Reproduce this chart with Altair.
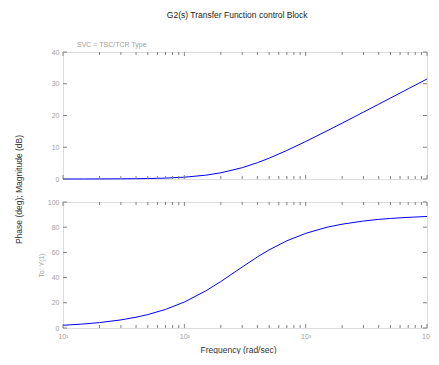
import altair as alt
import pandas as pd

# Data
freq = [10, 15, 20, 30, 40, 50, 70, 100, 150, 200, 300, 400, 500, 700,
        1000, 1500, 2000, 3000, 4000, 5000, 7000, 10000]
magnitude_db = [0.01, 0.01, 0.02, 0.06, 0.10, 0.15, 0.29, 0.57, 1.2, 1.95, 3.56,
                5.13, 6.56, 8.99, 11.8, 15.16, 17.6, 21.08, 23.56, 25.49, 28.41, 31.5]
phase_deg = [2.15, 3.23, 4.3, 6.43, 8.55, 10.65, 14.74, 20.6, 29.4, 36.9, 48.4,
             56.4, 62.0, 69.2, 75.1, 80.0, 82.4, 84.9, 86.2, 86.95, 87.8, 88.5]

major_x = [10, 100, 1000, 10000]
minor_x = [20, 30, 40, 50, 60, 70, 80, 90, 200, 300, 400, 500, 600, 700, 800, 900,
           2000, 3000, 4000, 5000, 6000, 7000, 8000, 9000]
mag_ticks = [0, 10, 20, 30, 40]
phase_ticks = [0, 20, 40, 60, 80, 100]

W, H1, H2 = 364, 127, 126
FRAME = "#808080"
LABEL = "#a0a0a0"
FONT = "Liberation Sans"

df = pd.DataFrame({"f": freq, "mag": magnitude_db, "phase": phase_deg})
dmaj = pd.DataFrame({"f": major_x})
dmin = pd.DataFrame({"f": minor_x})

xscale = alt.Scale(type="log", domain=[10, 10000], nice=False)
mscale = alt.Scale(domain=[0, 40], nice=False)
pscale = alt.Scale(domain=[0, 100], nice=False)

top_x_axis = alt.Axis(values=major_x, ticks=False, grid=False, domain=False, labels=False, title=None)
bot_x_axis = alt.Axis(values=major_x, ticks=False, grid=False, domain=False,
                      labelColor=LABEL, labelFontSize=7, labelFont=FONT, labelPadding=4,
                      labelExpr="datum.value == 10 ? '10¹' : datum.value == 100 ? '10²' : datum.value == 1000 ? '10³' : '10⁴'",
                      labelFlush=False,
                      title="Frequency (rad/sec)", titleFont=FONT, titleFontSize=8.5,
                      titleFontWeight="normal", titleColor="#333333", titlePadding=6,
                      titleX=175)
mag_axis = alt.Axis(values=mag_ticks, ticks=False, grid=False, domain=False,
                    labelColor=LABEL, labelFontSize=7, labelFont=FONT, labelPadding=4,
                    title="Phase (deg); Magnitude (dB)", titleFont=FONT,
                    titleFontSize=8.5, titleFontWeight="normal", titleColor="#333333",
                    titleX=-40, titleY=H1 + 10)
phase_axis = alt.Axis(values=phase_ticks, ticks=False, grid=False, domain=False,
                      labelColor=LABEL, labelFontSize=7, labelFont=FONT, labelPadding=4,
                      title="To: Y(1)", titleFont=FONT, titleFontSize=7,
                      titleFontWeight="normal", titleColor=LABEL, titlePadding=3)


def xticks(H, xaxis):
    layers = []
    for d, ln in ((dmaj, 4), (dmin, 3)):
        base = alt.Chart(d).mark_rule(color=FRAME, strokeWidth=1)
        layers.append(base.encode(x=alt.X("f:Q", scale=xscale, axis=xaxis), y=alt.value(H), y2=alt.value(H - ln)))
        layers.append(base.encode(x=alt.X("f:Q", scale=xscale, axis=xaxis), y=alt.value(0), y2=alt.value(ln)))
    return layers


def yticks(vals, yscale, field, yaxis):
    d = pd.DataFrame({field: vals})
    base = alt.Chart(d).mark_rule(color=FRAME, strokeWidth=1)
    return [
        base.encode(y=alt.Y(f"{field}:Q", scale=yscale, axis=yaxis), x=alt.value(0), x2=alt.value(4)),
        base.encode(y=alt.Y(f"{field}:Q", scale=yscale, axis=yaxis), x=alt.value(W - 4), x2=alt.value(W)),
    ]


mag_line = alt.Chart(df).mark_line(color="#0000ff", strokeWidth=1).encode(
    x=alt.X("f:Q", scale=xscale, axis=top_x_axis),
    y=alt.Y("mag:Q", scale=mscale, axis=mag_axis),
)

top = alt.layer(mag_line, *xticks(H1, top_x_axis), *yticks(mag_ticks, mscale, "mag", mag_axis)).properties(
    width=W, height=H1,
    title=alt.TitleParams("SVC = TSC/TCR Type", anchor="start", frame="group", dx=14,
                          fontSize=7, font=FONT, fontWeight="normal", color=LABEL, offset=0),
)

phase_line = alt.Chart(df).mark_line(color="#0000ff", strokeWidth=1).encode(
    x=alt.X("f:Q", scale=xscale, axis=bot_x_axis),
    y=alt.Y("phase:Q", scale=pscale, axis=phase_axis),
)

bottom = alt.layer(phase_line, *xticks(H2, bot_x_axis), *yticks(phase_ticks, pscale, "phase", phase_axis)).properties(
    width=W, height=H2,
)

chart = alt.vconcat(top, bottom, spacing=23, bounds="flush").properties(
    title=alt.TitleParams("G2(s) Transfer Function control Block", anchor="middle",
                          fontSize=8.5, font=FONT, fontWeight="normal", color="#222222",
                          offset=21, dx=14),
    padding={"left": 5, "top": 3, "right": -2, "bottom": 0},
).configure_view(stroke=FRAME, strokeWidth=1.2).configure(background="white")

chart.save("out.html", embed_options={"renderer": "svg", "actions": False})
